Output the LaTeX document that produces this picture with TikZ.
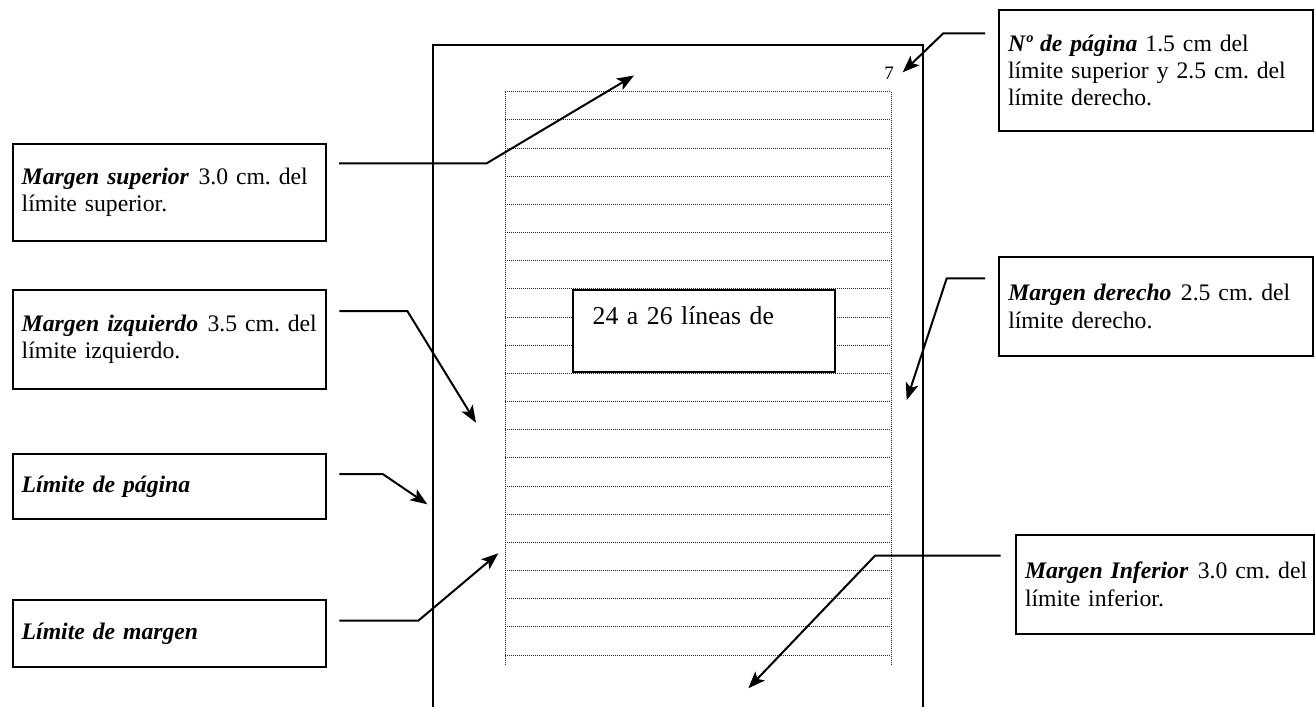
\documentclass[tikz,border=0pt]{standalone}
\usepackage{fontspec}
\setmainfont{Liberation Serif}
\usetikzlibrary{arrows.meta,calc}
\newcommand{\bi}[1]{\textbf{\textit{#1}}}
\newcommand{\gapsp}{\ \kern1.5pt}
\frenchspacing
\begin{document}
\begin{tikzpicture}[x=1pt,y=-1pt,
  lbl/.style={draw, line width=2pt, anchor=north west, inner xsep=9pt, inner ysep=0pt,
    align=left, font=\fontsize{23.7pt}{27.3pt}\selectfont},
  conn/.style={line width=2pt, -{Stealth[length=17pt,width=13pt,inset=4pt]}, line join=miter},
  row/.style={line width=0.9pt, dash pattern=on 1pt off 1pt, black!85},
  pageline/.style={line width=2pt}]
\useasboundingbox (0,0) rectangle (1315,707);

% page border
\draw[pageline] (433.3,707) -- (433.3,44.7) -- (923.3,44.7) -- (923.3,707);

% text rows
\foreach \i in {0,...,20} {
  \draw[row] (505,{91.7+\i*28.17}) -- (891,{91.7+\i*28.17});
}
\draw[row] (505,91.7) -- (505,665);
\draw[row] (891,91.7) -- (891,665);

% page number
\node[font=\fontsize{19pt}{22pt}\selectfont, inner sep=0pt] (pn) at (889,73) {7};

% central box
\node[draw, line width=2pt, fill=white, anchor=north west, minimum width=262.6pt,
  minimum height=81.4pt, text width=222.6pt, inner xsep=20pt, inner ysep=0pt, align=left,
  font=\fontsize{25.7pt}{30pt}\selectfont] (ct) at (571.7,289.3) {24 a 26 líneas de\\\mbox{}};

% label boxes
\node[lbl, minimum width=314pt, text width=296pt, minimum height=121pt] (np) at (998,9)
  {\mbox{\bi{Nº de página} 1.5 cm del}\\\mbox{límite superior y 2.5 cm. del}\\límite derecho.};
\node[lbl, minimum width=313.3pt, text width=295.3pt, minimum height=97pt] (ms) at (11.7,143)
  {\mbox{\bi{Margen superior}\gapsp 3.0 cm. del}\\límite superior.};
\node[lbl, minimum width=313.3pt, text width=295.3pt, minimum height=98.4pt] (mi) at (11.7,289.3)
  {\mbox{\bi{Margen izquierdo}\gapsp 3.5 cm. del}\\límite izquierdo.};
\node[lbl, minimum width=313.3pt, text width=295.3pt, minimum height=65.6pt] (lp) at (11.7,452.7)
  {\bi{Límite de página}};
\node[lbl, minimum width=313.3pt, text width=295.3pt, minimum height=66.4pt] (lm) at (11.7,599.3)
  {\bi{Límite de margen}};
\node[lbl, minimum width=314pt, text width=296pt, minimum height=99pt] (md) at (998.3,256)
  {\mbox{\bi{Margen derecho}\gapsp 2.5 cm. del}\\límite derecho.};
\node[lbl, minimum width=298pt, text width=280pt, minimum height=98.7pt] (mf) at (1015,534)
  {\mbox{\bi{Margen Inferior}\gapsp 3.0 cm. del}\\límite inferior.};

% connector points
\coordinate (npS) at (985,33.3);   \coordinate (npK) at (943.3,33.3);  \coordinate (npT) at (902.7,72.3);
\coordinate (msS) at (339,163.3);  \coordinate (msK) at (486.7,163.3); \coordinate (msT) at (634,75.5);
\coordinate (miS) at (339.3,311);  \coordinate (miK) at (407.3,311);   \coordinate (miT) at (476,422.7);
\coordinate (lpS) at (339.3,474);  \coordinate (lpK) at (382.7,474);   \coordinate (lpT) at (427.3,504.3);
\coordinate (lmS) at (339.3,620.7);\coordinate (lmK) at (418.3,620.7); \coordinate (lmT) at (498.3,553.3);
\coordinate (mdS) at (985,278.3);  \coordinate (mdK) at (946.7,278.3); \coordinate (mdT) at (906.7,400);
\coordinate (mfS) at (1000.7,555.7);\coordinate (mfK) at (875,555.7);  \coordinate (mfT) at (748.3,688.3);

\draw[conn] (npS) -- (npK) -- (npT);
\draw[conn] (msS) -- (msK) -- (msT);
\draw[conn] (miS) -- (miK) -- (miT);
\draw[conn] (lpS) -- (lpK) -- (lpT);
\draw[conn] (lmS) -- (lmK) -- (lmT);
\draw[conn] (mdS) -- (mdK) -- (mdT);
\draw[conn] (mfS) -- (mfK) -- (mfT);
\end{tikzpicture}
\end{document}
